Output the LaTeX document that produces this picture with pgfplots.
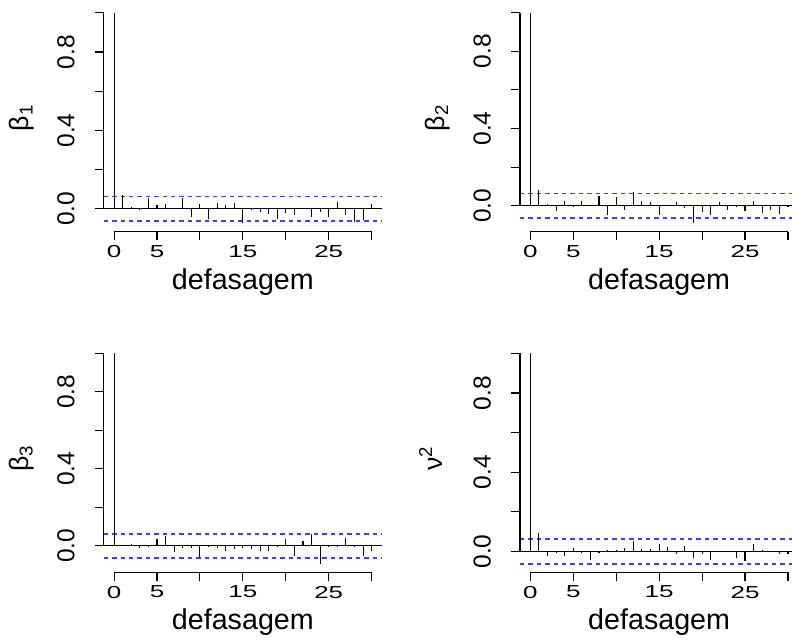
\documentclass[border=0pt]{standalone}
\usepackage{pgfplots}
\pgfplotsset{compat=1.18}
\usepackage{fontspec}
\setmainfont{Liberation Sans}
\newfontfamily\xtickfont[FakeStretch=1.5]{Liberation Sans}
\definecolor{rblue}{RGB}{60,60,255}

\pgfplotstableread{
lag acf
0 1
1 0.071
2 0.012
3 -0.008
4 0.058
5 0.022
6 0.026
7 0.003
8 0.054
9 -0.043
10 0.024
11 -0.051
12 0.029
13 0.020
14 0.031
15 -0.073
16 -0.005
17 -0.014
18 -0.026
19 -0.053
20 -0.022
21 -0.029
22 0.003
23 -0.043
24 -0.017
25 -0.039
26 0.034
27 -0.032
28 -0.065
29 -0.056
30 0.026
}\tabA

\pgfplotstableread{
lag acf
0 1
1 0.083
2 0.010
3 -0.026
4 0.026
5 -0.003
6 0.026
7 0.003
8 0.052
9 -0.048
10 0.043
11 -0.022
12 0.071
13 0.022
14 0.021
15 -0.048
16 0.003
17 0.017
18 -0.014
19 -0.091
20 -0.033
21 -0.047
22 0.017
23 -0.024
24 -0.005
25 -0.028
26 0.026
27 -0.038
28 -0.022
29 -0.043
30 -0.007
}\tabB

\pgfplotstableread{
lag acf
0 1
1 0.003
2 0.009
3 -0.010
4 -0.003
5 0.035
6 0.052
7 -0.031
8 -0.010
9 -0.009
10 -0.059
11 -0.003
12 -0.010
13 -0.026
14 -0.017
15 -0.010
16 -0.014
17 -0.024
18 -0.024
19 0.001
20 0.035
21 -0.054
22 0.023
23 0.061
24 -0.0935
25 -0.007
26 0.001
27 0.043
28 -0.003
29 -0.054
30 -0.024
}\tabC

\pgfplotstableread{
lag acf
0 1
1 0.094
2 -0.025
3 -0.010
4 -0.025
5 0.015
6 -0.010
7 -0.042
8 -0.010
9 0.008
10 0.005
11 0.017
12 0.054
13 0.013
14 0.013
15 0.039
16 0.022
17 -0.013
18 0.029
19 -0.034
20 -0.013
21 -0.045
22 0.001
23 0.001
24 -0.034
25 -0.050
26 0.037
27 0.007
28 0.001
29 -0.013
30 -0.013
}\tabD

\pgfplotsset{
  acfpanel/.style={
    scale only axis, width=208.7pt, height=170.5pt,
    anchor=south west,
    xmin=-1.2, xmax=31.2,
    axis x line*=bottom, axis y line*=left,
    axis line style={draw=none},
    tick align=outside, major tick length=6.6pt,
    every tick/.style={black, line width=0.8pt},
    xtick={0,5,...,30}, xticklabels={0,5,,15,,25,},
    ytick={0,0.2,0.4,0.6,0.8,1.0}, yticklabels={0.0,,0.4,,0.8,},
    xticklabel style={font=\xtickfont\fontsize{13}{13}\selectfont, inner sep=0pt, anchor=north},
    yticklabel style={font=\fontsize{18.4}{18.4}\selectfont, rotate=90, inner sep=0pt, anchor=south},
    xticklabel shift=3.4pt, yticklabel shift=15pt,
    clip=false,
    xlabel={defasagem},
    every axis x label/.style={at={(axis description cs:0.5,-0.253)}, anchor=base, inner sep=0pt, font=\fontsize{21.5}{21.5}\selectfont},
    every axis y label/.style={at={(axis description cs:-#1,0.5)}, rotate=90, anchor=base, inner sep=0pt, font=\fontsize{20}{20}\selectfont},
  },
  acfbars/.style={draw=black, line width=0.8pt, ycomb},
  acflim/.style={draw=rblue, line width=1.2pt, dash pattern=on 3.3pt off 3pt},
  acfax/.style={draw=black, line width=0.8pt},
}

\begin{document}
\begin{tikzpicture}
\useasboundingbox (0,0) rectangle (594pt,479.25pt);
\clip (0,0) rectangle (594pt,479.25pt);

% Panel 1
\begin{axis}[acfpanel=0.27, at={(77.8pt,305.5pt)}, ymin=-0.1159, ymax=1.0429, ylabel={β\textsubscript{1}}]
\addplot[acfax] coordinates {(-1.2,0) (31.2,0)};
\addplot[acflim] coordinates {(-1.2,0.063) (31.2,0.063)};
\addplot[acflim] coordinates {(-1.2,-0.063) (31.2,-0.063)};
\addplot[acfbars] table[x=lag,y=acf] {\tabA};
\addplot[acfax] coordinates {(0,-0.1159) (30,-0.1159)};
\addplot[acfax] coordinates {(-1.2,0) (-1.2,1)};
\end{axis}

% Panel 2
\begin{axis}[acfpanel=0.273, at={(390pt,305.5pt)}, ymin=-0.1346, ymax=1.0436, ylabel={β\textsubscript{2}}]
\addplot[acfax] coordinates {(-1.2,0) (31.2,0)};
\addplot[acflim] coordinates {(-1.2,0.063) (31.2,0.063)};
\addplot[acflim] coordinates {(-1.2,-0.063) (31.2,-0.063)};
\addplot[acfbars] table[x=lag,y=acf] {\tabB};
\addplot[acfax] coordinates {(0,-0.1346) (30,-0.1346)};
\addplot[acfax] coordinates {(-1.2,0) (-1.2,1)};
\end{axis}

% Panel 3
\begin{axis}[acfpanel=0.27, at={(77.8pt,50pt)}, ymin=-0.1372, ymax=1.0437, ylabel={β\textsubscript{3}}]
\addplot[acfax] coordinates {(-1.2,0) (31.2,0)};
\addplot[acflim] coordinates {(-1.2,0.063) (31.2,0.063)};
\addplot[acflim] coordinates {(-1.2,-0.063) (31.2,-0.063)};
\addplot[acfbars] table[x=lag,y=acf] {\tabC};
\addplot[acfax] coordinates {(0,-0.1372) (30,-0.1372)};
\addplot[acfax] coordinates {(-1.2,0) (-1.2,1)};
\end{axis}

% Panel 4
\begin{axis}[acfpanel=0.28, at={(390pt,50pt)}, ymin=-0.1055, ymax=1.0425, ylabel={ν\textsuperscript{2}}]
\addplot[acfax] coordinates {(-1.2,0) (31.2,0)};
\addplot[acflim] coordinates {(-1.2,0.063) (31.2,0.063)};
\addplot[acflim] coordinates {(-1.2,-0.063) (31.2,-0.063)};
\addplot[acfbars] table[x=lag,y=acf] {\tabD};
\addplot[acfax] coordinates {(0,-0.1055) (30,-0.1055)};
\addplot[acfax] coordinates {(-1.2,0) (-1.2,1)};
\end{axis}
\end{tikzpicture}
\end{document}
